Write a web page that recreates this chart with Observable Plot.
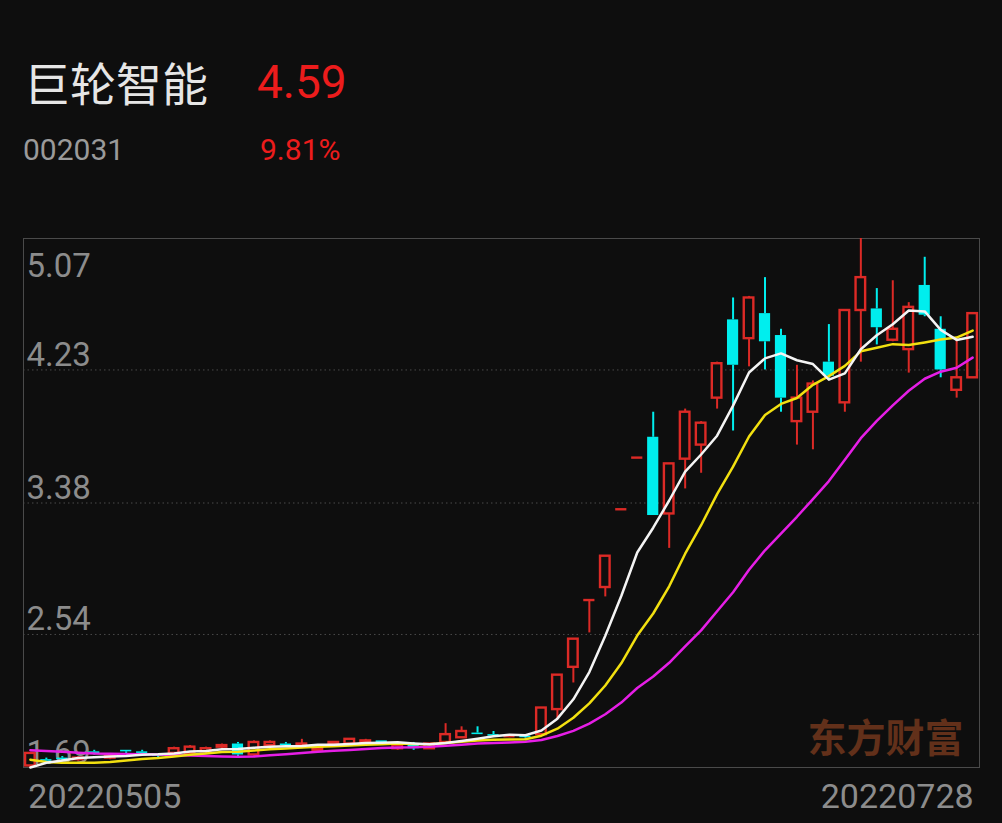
<!DOCTYPE html>
<html><head><meta charset="utf-8">
<script src="https://cdn.jsdelivr.net/npm/d3@7"></script>
<script src="https://cdn.jsdelivr.net/npm/@observablehq/plot@0.6"></script>
<style>
html,body{margin:0;padding:0;background:#0e0e0e;}
#wrap{position:relative;width:1002px;height:823px;overflow:hidden;}
#header{position:relative;height:230px;}
.t{position:absolute;white-space:nowrap;line-height:1;}
#name{left:24px;top:58px;font-size:46px;color:#e6e6e6;font-family:"Noto Sans CJK SC",sans-serif;}
#price{left:257px;top:59px;font-size:46px;color:#ec1c1c;font-family:Roboto,sans-serif;}
#code{left:23px;top:135px;font-size:30px;color:#9a9a9a;font-family:Roboto,sans-serif;}
#pct{left:260px;top:135px;font-size:30px;color:#ec1c1c;font-family:Roboto,sans-serif;}
#chart svg{display:block;}
</style></head><body>
<div id="wrap">
  <div id="header">
    <div class="t" id="name">巨轮智能</div>
    <div class="t" id="price">4.59</div>
    <div class="t" id="code">002031</div>
    <div class="t" id="pct">9.81%</div>
  </div>
  <div id="chart"></div>
</div>
<script>
const dates = ["20220505","20220506","20220509","20220510","20220511","20220512","20220513","20220516","20220517","20220518",
"20220519","20220520","20220523","20220524","20220525","20220526","20220527","20220530","20220531","20220601",
"20220602","20220606","20220607","20220608","20220609","20220610","20220613","20220614","20220615","20220616",
"20220617","20220620","20220621","20220622","20220623","20220624","20220627","20220628","20220629","20220630",
"20220701","20220704","20220705","20220706","20220707","20220708","20220711","20220712","20220713","20220714",
"20220715","20220718","20220719","20220720","20220721","20220722","20220725","20220726","20220727","20220728"];

const open = [1.70,1.74,1.75,1.74,1.79,1.75,1.80,1.79,1.77,1.78,
1.78,1.79,1.82,1.84,1.77,1.83,1.84,1.83,1.80,1.84,
1.84,1.85,1.86,1.81,1.84,1.81,1.85,1.88,1.91,1.90,
1.89,1.89,1.90,2.06,2.33,2.76,2.84,3.34,3.67,3.80,
3.31,3.66,3.75,4.05,4.55,4.43,4.59,4.45,3.90,3.96,
4.28,4.02,4.61,4.62,4.42,4.36,4.77,4.49,4.10,4.18];

const close = [1.78,1.73,1.74,1.75,1.78,1.76,1.79,1.78,1.76,1.81,
1.82,1.81,1.83,1.77,1.85,1.85,1.83,1.84,1.81,1.85,
1.87,1.86,1.85,1.83,1.81,1.84,1.90,1.92,1.90,1.89,
1.89,1.88,2.07,2.28,2.51,2.76,3.04,3.34,3.67,3.30,
3.63,3.96,3.89,4.27,4.26,4.69,4.41,4.05,4.05,4.14,
4.19,4.61,4.82,4.50,4.49,4.63,4.58,4.23,4.18,4.59];

const high = [1.78,1.75,1.76,1.76,1.80,1.77,1.80,1.80,1.77,1.82,
1.83,1.82,1.84,1.85,1.86,1.86,1.85,1.87,1.82,1.85,
1.87,1.87,1.86,1.83,1.85,1.84,1.97,1.95,1.95,1.92,
1.90,1.90,2.07,2.28,2.51,2.76,3.04,3.34,3.67,3.96,
3.63,3.98,3.90,4.28,4.69,4.70,4.82,4.49,4.26,4.16,
4.52,4.61,5.07,4.75,4.80,4.66,4.95,4.57,4.43,4.59];

const low = [1.69,1.72,1.73,1.73,1.77,1.74,1.78,1.77,1.75,1.77,
1.77,1.78,1.80,1.76,1.76,1.83,1.83,1.81,1.79,1.84,
1.84,1.85,1.85,1.80,1.80,1.81,1.85,1.88,1.90,1.89,
1.88,1.87,1.89,2.00,2.23,2.55,2.78,3.34,3.67,3.30,
3.09,3.47,3.57,3.98,3.84,4.25,4.23,3.96,3.75,3.72,
4.17,3.96,4.28,4.39,4.41,4.21,4.57,4.18,4.05,4.18];

const ma5 = [1.69,1.72,1.735,1.75,1.756,1.76,1.764,1.772,1.774,1.78,
1.792,1.796,1.806,1.808,1.816,1.822,1.826,1.828,1.836,1.836,
1.84,1.846,1.848,1.852,1.844,1.838,1.846,1.86,1.874,1.89,
1.90,1.896,1.926,2.002,2.126,2.30,2.532,2.786,3.064,3.222,
3.396,3.58,3.69,3.81,4.002,4.214,4.304,4.336,4.292,4.268,
4.168,4.208,4.362,4.452,4.522,4.61,4.604,4.486,4.422,4.442];

const ma10 = [1.74,1.725,1.72,1.72,1.72,1.725,1.735,1.745,1.75,1.76,
1.772,1.78,1.789,1.791,1.798,1.807,1.811,1.817,1.822,1.826,
1.831,1.836,1.838,1.844,1.84,1.839,1.846,1.854,1.863,1.867,
1.869,1.871,1.893,1.938,2.008,2.10,2.214,2.356,2.533,2.674,
2.848,3.056,3.238,3.437,3.612,3.805,3.942,4.013,4.051,4.135,
4.191,4.256,4.349,4.372,4.395,4.389,4.406,4.424,4.437,4.482];

const ma20 = [1.80,1.795,1.79,1.785,1.78,1.778,1.776,1.775,1.773,1.77,
1.767,1.763,1.76,1.758,1.76,1.768,1.775,1.783,1.79,1.797,
1.802,1.808,1.814,1.818,1.819,1.823,1.829,1.836,1.843,1.847,
1.85,1.854,1.866,1.891,1.924,1.970,2.03,2.105,2.198,2.271,
2.359,2.464,2.566,2.688,2.81,2.953,3.078,3.185,3.292,3.405,
3.52,3.656,3.794,3.905,4.004,4.097,4.174,4.219,4.244,4.309];

const yTicks = [5.07, 4.23, 3.38, 2.54, 1.69];
const gridTicks = [4.23, 3.38, 2.54];
const xLabels = ["20220505", "20220728"];
const watermark = "东方财富";

const RED = "#dc2a26", CYAN = "#00eeee";
const data = dates.map((d, i) => ({
  date: d, i, open: open[i], close: close[i], high: high[i], low: low[i],
  up: close[i] >= open[i], flat: Math.abs(close[i] - open[i]) < 0.005,
  ma5: ma5[i], ma10: ma10[i], ma20: ma20[i]
}));
const col = d => d.up ? RED : CYAN;

const chart = Plot.plot({
  width: 1002, height: 593,
  marginTop: 8, marginBottom: 56, marginLeft: 23, marginRight: 23,
  style: {background: "transparent", fontFamily: "Roboto, sans-serif", overflow: "visible"},
  x: {type: "band", domain: dates, paddingInner: 0.3, paddingOuter: 0.08, axis: null},
  y: {domain: [1.69, 5.07], axis: null},
  color: {type: "identity"},
  marks: [
    Plot.ruleY(gridTicks, {stroke: "#4a4a4a", strokeDasharray: "1.5,3", strokeWidth: 1}),
    Plot.frame({stroke: "#4a4a4a"}),
    Plot.text([watermark], {frameAnchor: "bottom-right", dx: -16, dy: -16, text: d => d,
      fontSize: 39, fontWeight: "bold", fill: "#62301a", textAnchor: "end", lineAnchor: "bottom",
      fontFamily: "'Noto Sans CJK SC', sans-serif"}),
    Plot.text(yTicks.filter(v => v !== 5.07), {frameAnchor: "left", y: d => d, text: d => d.toFixed(2),
      dx: 3, dy: -4, textAnchor: "start", lineAnchor: "bottom", fill: "#8c8c8c", fontSize: 33}),
    Plot.text([5.07], {frameAnchor: "left", y: d => d, text: d => d.toFixed(2),
      dx: 3, dy: 15, textAnchor: "start", lineAnchor: "top", fill: "#8c8c8c", fontSize: 33}),
    // wicks
    Plot.ruleX(data, {x: "date", y1: d => Math.max(d.open, d.close), y2: "high", stroke: col, strokeWidth: 2}),
    Plot.ruleX(data, {x: "date", y1: "low", y2: d => Math.min(d.open, d.close), stroke: col, strokeWidth: 2}),
    // bodies
    Plot.barY(data.filter(d => d.up && !d.flat), {x: "date", y1: "open", y2: "close",
      fill: "#0e0e0e", stroke: RED, strokeWidth: 2.4, insetLeft: 0.8, insetRight: 0.8}),
    Plot.barY(data.filter(d => !d.up && !d.flat), {x: "date", y1: "open", y2: "close", fill: CYAN}),
    Plot.tickY(data.filter(d => d.flat), {x: "date", y: "close", stroke: col, strokeWidth: 2.4}),
    // moving averages
    Plot.line(data, {x: "date", y: "ma20", stroke: "#e61ee6", strokeWidth: 2.5}),
    Plot.line(data, {x: "date", y: "ma10", stroke: "#f2e010", strokeWidth: 2.5}),
    Plot.line(data, {x: "date", y: "ma5", stroke: "#f4f4f4", strokeWidth: 2.5}),
    // x labels
    Plot.text([xLabels[0]], {x: d => d, frameAnchor: "bottom", text: d => d, dy: 40, dx: -2,
      textAnchor: "start", fill: "#8c8c8c", fontSize: 34}),
    Plot.text([xLabels[1]], {x: d => d, frameAnchor: "bottom", text: d => d, dy: 40, dx: 1,
      textAnchor: "end", fill: "#8c8c8c", fontSize: 34})
  ]
});
document.getElementById("chart").appendChild(chart);
</script>
</body></html>
